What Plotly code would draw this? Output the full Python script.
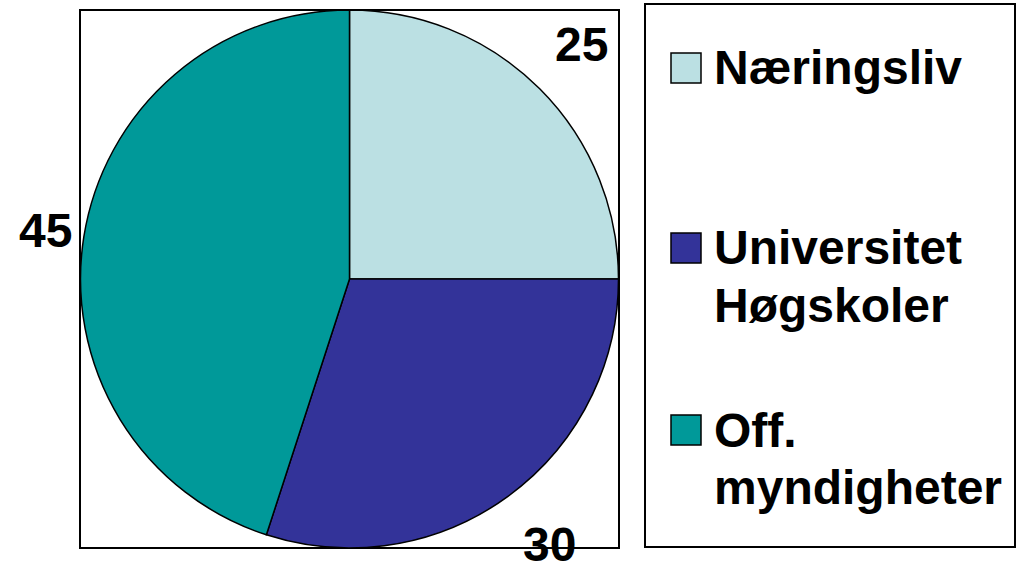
import plotly.graph_objects as go

labels = ["Næringsliv", "Universitet<br>Høgskoler", "Off.<br>myndigheter"]
values = [25, 30, 45]
colors = ["#BBE0E3", "#333399", "#009999"]

W, H = 1016, 564
FONT = "Liberation Sans, Arial, sans-serif"
FS = 48

def px(x):
    return x / W

def py(y):
    return 1 - y / H

fig = go.Figure()
fig.add_trace(go.Pie(
    labels=labels,
    values=values,
    marker=dict(colors=colors, line=dict(color="black", width=1.5)),
    sort=False,
    direction="clockwise",
    rotation=0,
    textinfo="none",
    hoverinfo="label+value",
    showlegend=False,
    domain=dict(x=[px(80), px(619)], y=[py(548), py(10)]),
))

shapes = [
    # plot-area frame
    dict(type="rect", xref="paper", yref="paper",
         x0=px(80), x1=px(619), y0=py(548), y1=py(10),
         line=dict(color="black", width=2), fillcolor="rgba(0,0,0,0)", layer="below"),
    # legend frame
    dict(type="rect", xref="paper", yref="paper",
         x0=px(645), x1=px(1015), y0=py(547), y1=py(4),
         line=dict(color="black", width=2), fillcolor="rgba(0,0,0,0)"),
]

annotations = []
# value labels
value_pos = [(581, 45), (549, 544), (45, 231)]
for v, (x, y) in zip(values, value_pos):
    annotations.append(dict(
        text=str(v), x=px(x), y=py(y), xref="paper", yref="paper",
        xanchor="center", yanchor="middle", showarrow=False,
        font=dict(family=FONT, size=FS, color="black", weight="bold"),
    ))

# manual legend
legend_first_line_y = [68, 248, 430]
line_gap = 57
for lab, col, y0 in zip(labels, colors, legend_first_line_y):
    shapes.append(dict(type="rect", xref="paper", yref="paper",
                       x0=px(671), x1=px(701), y0=py(y0 + 15), y1=py(y0 - 15),
                       fillcolor=col, line=dict(color="black", width=1.5)))
    for i, part in enumerate(lab.split("<br>")):
        annotations.append(dict(
            text=part, x=px(712), y=py(y0 + i * line_gap), xref="paper", yref="paper",
            xanchor="left", yanchor="middle", showarrow=False,
            font=dict(family=FONT, size=FS, color="black", weight="bold"),
        ))

fig.update_layout(
    width=W, height=H,
    margin=dict(l=0, r=0, t=0, b=0),
    paper_bgcolor="white", plot_bgcolor="white",
    shapes=shapes, annotations=annotations,
    showlegend=False,
)

fig.write_html("out.html",
               config={"displayModeBar": False},
               post_script="document.body.style.margin='0';document.body.style.overflow='hidden';")
